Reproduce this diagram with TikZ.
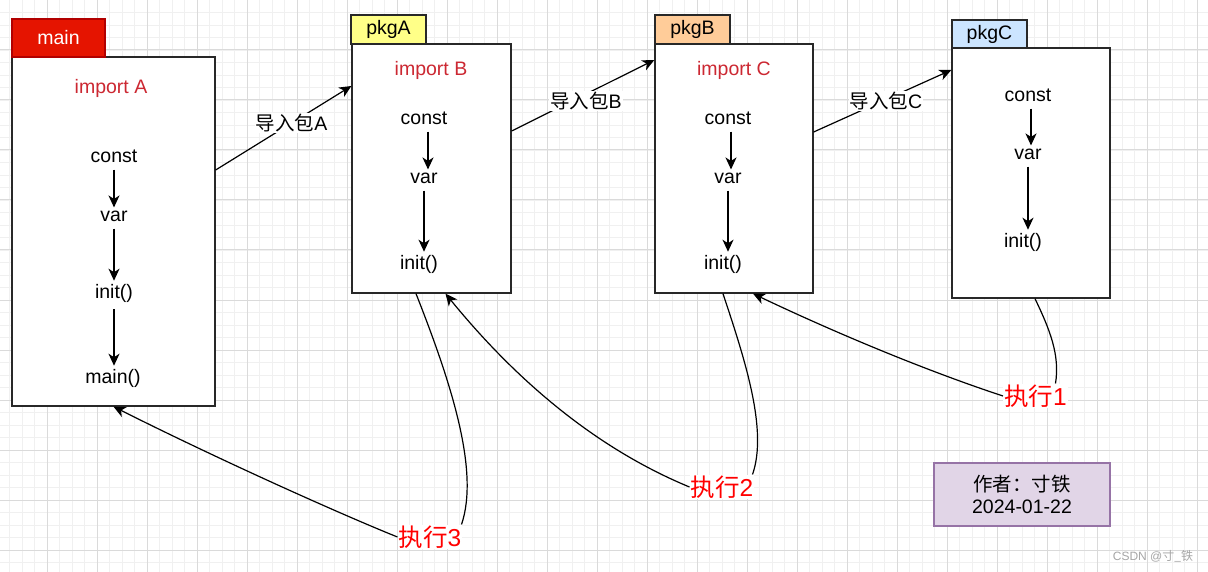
\documentclass[tikz,border=0pt]{standalone}
\usepackage{fontspec}
\setmainfont{Liberation Sans}
\newfontfamily\cjk{Noto Sans CJK SC}
\usetikzlibrary{arrows.meta}
\definecolor{gridmaj}{RGB}{218,218,218}
\definecolor{gridmin}{RGB}{240,240,240}
\definecolor{mainred}{RGB}{229,20,0}
\definecolor{mainredline}{RGB}{178,0,0}
\definecolor{importred}{RGB}{204,40,50}
\definecolor{tabyellow}{RGB}{255,255,136}
\definecolor{taborange}{RGB}{255,204,153}
\definecolor{tabblue}{RGB}{204,229,255}
\definecolor{purfill}{RGB}{225,213,231}
\definecolor{purline}{RGB}{150,115,166}
\definecolor{boxline}{RGB}{40,40,40}
\tikzset{
  txt/.style={font=\fontsize{19.5}{22}\selectfont, inner sep=0pt},
  imp/.style={txt, text=importred},
  body/.style={draw=boxline, line width=1.3pt, fill=white, inner sep=0pt},
  tabbox/.style={draw=boxline, line width=1.2pt, inner sep=0pt, font=\fontsize{19.5}{22}\selectfont},
  flow/.style={line width=1.3pt, -{Stealth[length=12pt,width=11pt,inset=3.5pt]}, shorten <=7pt, shorten >=3pt},
  conn/.style={line width=1.2pt, -{Stealth[length=12pt,width=11pt,inset=3.5pt]}},
  curve/.style={line width=1.2pt},
  lbl/.style={fill=white, inner sep=1pt, font=\fontsize{19.5}{22}\selectfont},
  exec/.style={fill=white, inner sep=1pt, text=red, font=\fontsize{24.5}{27}\selectfont},
}
\begin{document}
\begin{tikzpicture}[x=1pt,y=-1pt]
\useasboundingbox (0,0) rectangle (1208,572);
\fill[white] (0,0) rectangle (1208,572);
% grid
\foreach \x in {9.5,22,...,1208} \draw[gridmin, line width=0.8pt] (\x,0) -- (\x,572);
\foreach \y in {12.5,25,...,572} \draw[gridmin, line width=0.8pt] (0,\y) -- (1208,\y);
\foreach \x in {47,97,...,1197} \draw[gridmaj, line width=1pt] (\x,0) -- (\x,572);
\foreach \y in {0,50,...,550} \draw[gridmaj, line width=1pt] (0,\y) -- (1208,\y);

% main package
\node[body, minimum width=203pt, minimum height=349pt] (mainbox) at (113.5,231.5) {};
\node[tabbox, fill=mainred, draw=mainredline, text=white, minimum width=93pt, minimum height=38pt] (maintab) at (58.5,38) {main};
\node[imp] (ma) at (111,88) {import A};
\node[txt] (m1) at (114,156) {const};
\node[txt] (m2) at (114,216) {var};
\node[txt] (m3) at (114,293) {init()};
\node[txt] (m4) at (113,378) {main()};
\draw[flow] (m1.south) -- (m1.south |- m2.north);
\draw[flow] (m2.south) -- (m2.south |- m3.north);
\draw[flow] (m3.south) -- (m3.south |- m4.north);

% pkgA
\node[body, minimum width=159pt, minimum height=249pt] (pkga) at (431.5,168.5) {};
\node[tabbox, fill=tabyellow, minimum width=75pt, minimum height=29pt] (tabA) at (388.5,29.5) {pkgA};
\node[imp] (ia) at (431,70) {import B};
\node[txt] (a1) at (424,118) {const};
\node[txt] (a2) at (424,178) {var};
\node[txt] (a3) at (419,264) {init()};
\draw[flow] ([xshift=4pt]a1.south) -- ([xshift=4pt]a1.south |- a2.north);
\draw[flow] (a2.south) -- (a2.south |- a3.north);

% pkgB
\node[body, minimum width=158pt, minimum height=249pt] (pkgb) at (734,168.5) {};
\node[tabbox, fill=taborange, minimum width=75pt, minimum height=29pt] (tabB) at (692.5,29.5) {pkgB};
\node[imp] (ib) at (734,70) {import C};
\node[txt] (b1) at (728,118) {const};
\node[txt] (b2) at (728,178) {var};
\node[txt] (b3) at (723,264) {init()};
\draw[flow] ([xshift=3pt]b1.south) -- ([xshift=3pt]b1.south |- b2.north);
\draw[flow] (b2.south) -- (b2.south |- b3.north);

% pkgC
\node[body, minimum width=158pt, minimum height=250pt] (pkgc) at (1031,173) {};
\node[tabbox, fill=tabblue, minimum width=75pt, minimum height=28pt] (tabC) at (989.5,34) {pkgC};
\node[txt] (c1) at (1028,95) {const};
\node[txt] (c2) at (1028,154) {var};
\node[txt] (c3) at (1023,242) {init()};
\draw[flow] ([xshift=3pt]c1.south) -- ([xshift=3pt]c1.south |- c2.north);
\draw[flow] (c2.south) -- (c2.south |- c3.north);

% import connectors
\draw[conn] ([yshift=61.5pt]mainbox.east) -- node[lbl, pos=0.56] (la) {{\cjk 导入包}A} ([yshift=82.5pt]pkga.west);
\draw[conn] ([yshift=37.5pt]pkga.east) -- node[lbl, pos=0.52, yshift=-7pt] (lb) {{\cjk 导入包}B} ([yshift=108.5pt]pkgb.west);
\draw[conn] ([yshift=36.5pt]pkgb.east) -- node[lbl, pos=0.525, yshift=-2pt] (lc) {{\cjk 导入包}C} ([yshift=103pt]pkgc.west);

% execution labels
\node[exec] (ex1) at (1035.5,396) {{\cjk 执行}1};
\node[exec] (ex2) at (722,487) {{\cjk 执行}2};
\node[exec] (ex3) at (430,537) {{\cjk 执行}3};

\draw[curve] ([xshift=4pt]pkgc.south) .. controls (1050,330) and (1060,355) .. ([xshift=20pt]ex1.north);
\draw[conn] (ex1.west) .. controls (930,372) and (840,335) .. ([xshift=19pt]pkgb.south);
\draw[curve] ([xshift=-11pt]pkgb.south) .. controls (745,360) and (768,430) .. ([xshift=-2pt]ex2.north east);
\draw[conn] (ex2.west) .. controls (600,450) and (520,385) .. ([xshift=14pt]pkga.south);
\draw[curve] ([xshift=-15.5pt]pkga.south) .. controls (450,380) and (480,470) .. ([xshift=-1pt]ex3.north east);
\draw[conn] (ex3.west) .. controls (350,518) and (230,465) .. (mainbox.south);

% author
\node[draw=purline, fill=purfill, line width=1.1pt, minimum width=176pt, minimum height=63pt, align=center, font=\fontsize{19.5}{22}\selectfont, inner sep=0pt] (author) at (1022,494.5) {{\cjk 作者：寸铁}\\2024-01-22};

% watermark
\node[font=\fontsize{12}{14}\selectfont, text=black!35, inner sep=0pt] (wm) at (1153,556) {CSDN @{\cjk 寸\_铁}};
\end{tikzpicture}
\end{document}
